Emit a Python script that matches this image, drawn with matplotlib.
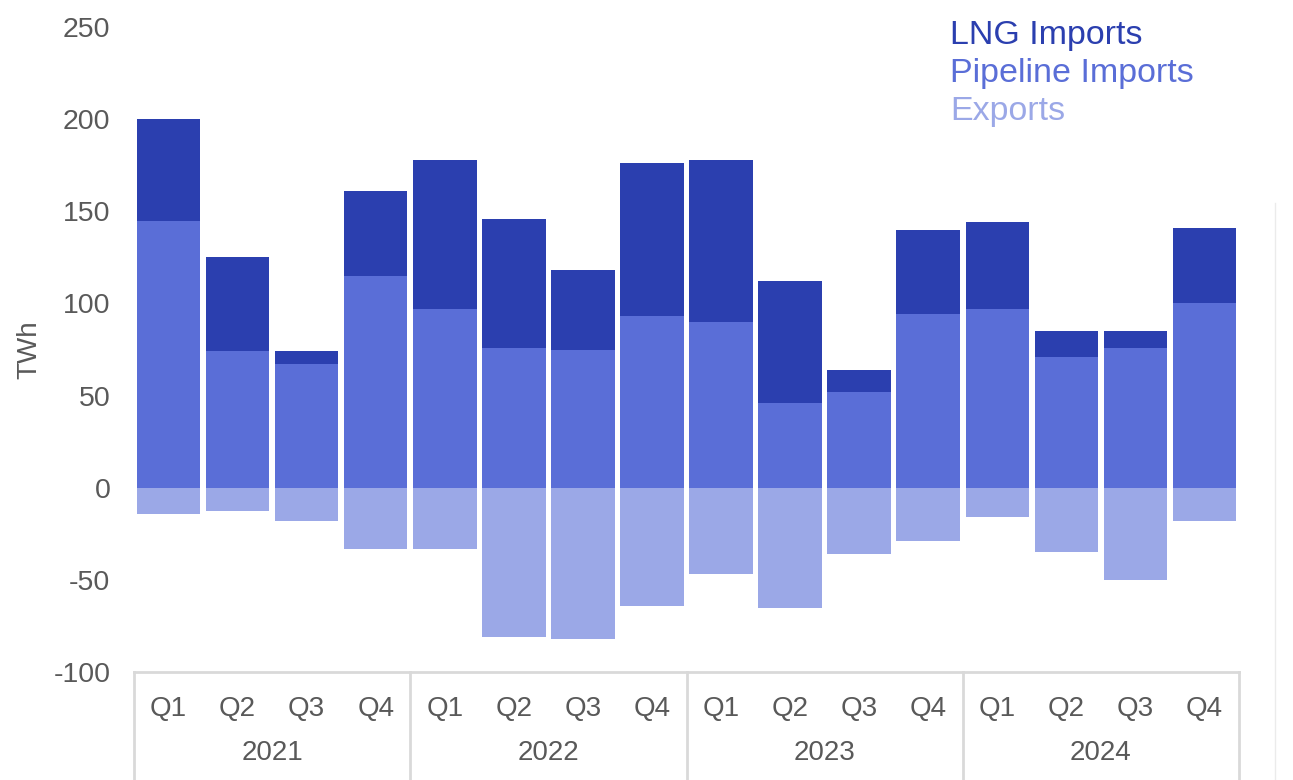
import matplotlib
matplotlib.use("Agg")
import matplotlib.pyplot as plt
import matplotlib.transforms as mtransforms
from matplotlib.lines import Line2D
import numpy as np

plt.rcParams['font.family'] = ['Liberation Sans', 'DejaVu Sans']
plt.rcParams['axes.unicode_minus'] = False

quarters = ["Q1", "Q2", "Q3", "Q4"] * 4
years = ["2021", "2022", "2023", "2024"]
pipeline = [145, 74, 67, 115, 97, 76, 75, 93, 90, 46, 52, 94, 97, 71, 76, 100]
totals = [200, 125, 74, 161, 178, 146, 118, 176, 178, 112, 64, 140, 144, 85, 85, 141]
lng = [t - p for t, p in zip(totals, pipeline)]
exports = [-14, -12.5, -18, -33, -33, -81, -82, -64, -47, -65, -36, -29, -16, -35, -50, -18]

c_lng = "#2B3FAF"
c_pipe = "#5A6ED7"
c_exp = "#9BA8E7"
grey = "#595959"

fig = plt.figure(figsize=(12.93, 7.80), dpi=100)
ax = fig.add_axes([134/1293, (780-672)/780, (1239-134)/1293, (672-27)/780])

x = np.arange(len(quarters))
w = 0.92
ax.bar(x, pipeline, width=w, color=c_pipe, label="Pipeline Imports")
ax.bar(x, lng, width=w, bottom=pipeline, color=c_lng, label="LNG Imports")
ax.bar(x, exports, width=w, color=c_exp, label="Exports")

ax.set_xlim(-0.5, 15.5)
ax.set_ylim(-100, 250)
ax.set_yticks(np.arange(-100, 251, 50))
ax.tick_params(axis='y', length=0, pad=17, labelsize=20.5, labelcolor=grey)
ax.set_xticks(x)
ax.set_xticklabels(quarters)
ax.tick_params(axis='x', length=0, pad=17, labelsize=20, labelcolor=grey)
ax.set_ylabel("TWh", fontsize=20, color=grey)
ax.yaxis.set_label_coords((42-134)/1105, 0.5)

for s in ["top", "right", "left"]:
    ax.spines[s].set_visible(False)
ax.spines["bottom"].set_color("#D9D9D9")
ax.spines["bottom"].set_linewidth(2)

trans = mtransforms.blended_transform_factory(ax.transData, ax.transAxes)
yb = -(780-672)/645
for xv in [-0.5, 3.5, 7.5, 11.5, 15.5]:
    ax.add_line(Line2D([xv, xv], [0, yb], transform=trans, color="#D9D9D9",
                       lw=2, clip_on=False))
for i, yr in enumerate(years):
    ax.text(4*i + 1.5, -81/645, yr, transform=trans, ha="center", va="center",
            fontsize=20, color=grey)

handles, labels = ax.get_legend_handles_labels()
order = [1, 0, 2]
leg = ax.legend([handles[i] for i in order], [labels[i] for i in order],
                loc="upper left", bbox_to_anchor=(926/1293, 1.005), bbox_transform=fig.transFigure,
                frameon=False, handlelength=0, handletextpad=0, borderpad=0.2,
                fontsize=24.5, labelspacing=0.2)
for h in leg.legend_handles:
    h.set_visible(False)
for t, c in zip(leg.get_texts(), [c_lng, c_pipe, c_exp]):
    t.set_color(c)

fig.add_artist(Line2D([1275/1293, 1275/1293], [0, (780-203)/780], transform=fig.transFigure,
                      color="#EBEBEB", lw=1))

fig.savefig("out.png", dpi=100)
